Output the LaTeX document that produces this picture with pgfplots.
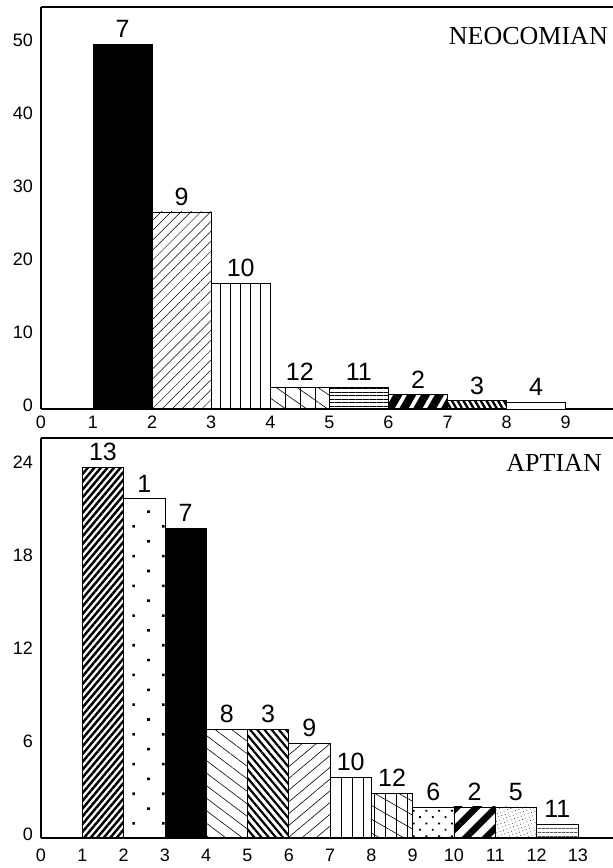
\documentclass[border=0pt]{standalone}
\usepackage{fontspec}
\setmainfont{Liberation Sans}
\newfontfamily\seriffont{Liberation Serif}
\usepackage{pgfplots}
\pgfplotsset{compat=1.18}
\usetikzlibrary{patterns.meta}

\newcommand\barfont{\fontsize{25}{25}\selectfont}
\newcommand\tickfont{\fontsize{18}{18}\selectfont}
\newcommand\titlefont{\seriffont\fontsize{26}{26}\selectfont}

\pgfplotsset{
  panel/.style={scale only axis, axis x line*=box, axis y line*=left,
    axis line style={line width=1.1pt}, major tick length=0pt,
    tick label style={font=\tickfont},
    /pgf/number format/assume math mode=true,
    xtick pos=bottom, xticklabel pos=lower, ytick pos=left,
    xticklabel style={anchor=north, inner sep=0pt},
    yticklabel style={anchor=east, inner sep=0pt, xshift=-8pt, yshift=4pt},
    clip=false},
  ov/.style={ybar, bar width=1, bar shift=0pt, draw=black, line width=0.7pt},
  bb/.style={ov, nodes near coords={#1},
    nodes near coords style={font=\barfont, anchor=south, inner sep=0pt, yshift=6pt}},
}

\begin{document}
\begin{tikzpicture}
\path[use as bounding box] (0,0) rectangle (613pt,868pt);

% ---------------- NEOCOMIAN ----------------
\begin{axis}[panel, at={(41pt,459pt)}, anchor=south west,
  width=572pt, height=402pt,
  xmin=0.12, xmax=9.8, ymin=0, ymax=55.07,
  xtick={0.12,1,2,3,4,5,6,7,8,9}, xticklabels={0,1,2,3,4,5,6,7,8,9},
  ytick={0,10,20,30,40,50},
  xticklabel style={yshift=-7pt}]
\addplot[bb=7, fill=black] coordinates {(1.5,50)};
\addplot[bb=9, pattern={Lines[angle=45,distance=7pt,line width=0.5pt]}] coordinates {(2.5,27)};
\addplot[bb=10, pattern={Lines[angle=90,distance=10pt,line width=0.6pt]}] coordinates {(3.5,17.2)};
\addplot[bb=12, pattern={Lines[angle=90,distance=15pt,line width=0.6pt]}] coordinates {(4.5,3.0)};
\addplot[ov, pattern={Lines[angle=-35,distance=12pt,line width=0.6pt]}] coordinates {(4.5,3.0)};
\addplot[bb=11, pattern={Lines[angle=0,distance=3.5pt,line width=0.6pt]}] coordinates {(5.5,3.0)};
\addplot[bb=2, pattern={Lines[angle=60,distance=12pt,line width=8pt]}] coordinates {(6.5,2.0)};
\addplot[bb=3, pattern={Lines[angle=-60,distance=5pt,line width=2.4pt]}] coordinates {(7.5,1.15)};
\addplot[bb=4, fill=white] coordinates {(8.5,0.95)};
\node[anchor=east, font=\titlefont, inner sep=0pt] at (rel axis cs:1,1) [xshift=-5pt, yshift=-29pt] {NEOCOMIAN};
\end{axis}

% ---------------- APTIAN ----------------
\begin{axis}[panel, at={(41pt,30pt)}, anchor=south west,
  width=572pt, height=400pt,
  xmin=0, xmax=13.85, ymin=0, ymax=25.8,
  xtick={0,1,...,13}, ytick={0,6,12,18,24},
  xticklabel style={yshift=-11pt}]
\addplot[bb=13, pattern={Lines[angle=50,distance=5pt,line width=2.5pt]}] coordinates {(1.5,23.9)};
\addplot[bb=1, pattern={Dots[angle=45,distance=21pt,radius=1.8pt]}] coordinates {(2.5,21.9)};
\addplot[bb=7, fill=black] coordinates {(3.5,20.0)};
\addplot[bb=8, pattern={Lines[angle=-37,distance=10pt,line width=0.6pt]}] coordinates {(4.5,7.0)};
\addplot[bb=3, pattern={Lines[angle=-50,distance=5.5pt,line width=2.2pt]}] coordinates {(5.5,7.0)};
\addplot[bb=9, pattern={Lines[angle=40,distance=9pt,line width=0.6pt]}] coordinates {(6.5,6.1)};
\addplot[bb=10, pattern={Lines[angle=90,distance=11pt,line width=0.6pt]}] coordinates {(7.5,3.9)};
\addplot[bb=12, pattern={Lines[angle=90,distance=11pt,line width=0.6pt]}] coordinates {(8.5,2.9)};
\addplot[ov, pattern={Lines[angle=-30,distance=12pt,line width=0.6pt]}] coordinates {(8.5,2.9)};
\addplot[bb=6, pattern={Dots[angle=45,distance=9pt,radius=1.3pt]}] coordinates {(9.5,2.0)};
\addplot[bb=2, pattern={Lines[angle=45,distance=14pt,line width=6.5pt]}] coordinates {(10.5,2.0)};
\addplot[bb=5, pattern={Dots[angle=20,distance=3.6pt,radius=0.45pt]}] coordinates {(11.5,2.0)};
\addplot[bb=11, pattern={Lines[angle=0,distance=4pt,line width=0.7pt]}] coordinates {(12.5,0.9)};
\node[anchor=east, font=\titlefont, inner sep=0pt] at (rel axis cs:1,1) [xshift=-11pt, yshift=-25pt] {APTIAN};
\end{axis}
\end{tikzpicture}
\end{document}
